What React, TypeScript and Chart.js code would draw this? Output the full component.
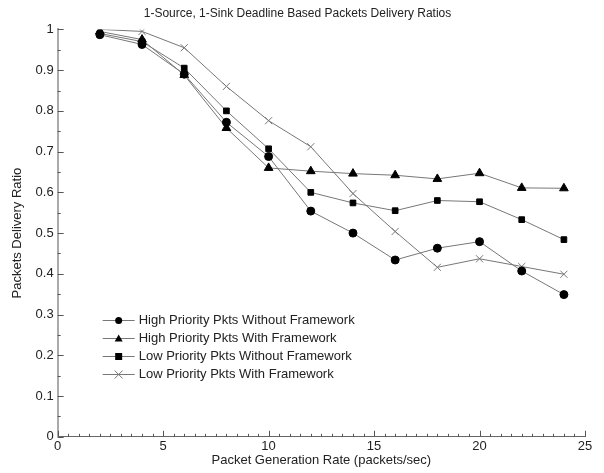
import React, { useEffect, useRef } from "react";
import { Chart, registerables } from "chart.js";

Chart.register(...registerables);

const rates = [2, 4, 6, 8, 10, 12, 14, 16, 18, 20, 22, 24];
const highWithout = [0.987, 0.963, 0.89, 0.772, 0.688, 0.554, 0.5, 0.434, 0.463, 0.479, 0.407, 0.349];
const highWith = [0.995, 0.975, 0.888, 0.758, 0.66, 0.652, 0.646, 0.642, 0.633, 0.647, 0.611, 0.61];
const lowWithout = [0.99, 0.97, 0.905, 0.8, 0.707, 0.6, 0.574, 0.555, 0.58, 0.577, 0.533, 0.484];
const lowWith = [1.0, 0.995, 0.955, 0.86, 0.776, 0.712, 0.597, 0.504, 0.416, 0.437, 0.418, 0.399];

const seriesLabels = [
  "High Priority Pkts Without Framework",
  "High Priority Pkts With Framework",
  "Low Priority Pkts Without Framework",
  "Low Priority Pkts With Framework",
];
const chartTitle = "1-Source, 1-Sink Deadline Based Packets Delivery Ratios";
const xTitle = "Packet Generation Rate (packets/sec)";
const yTitle = "Packets Delivery Ratio";

const FONT = "'Liberation Sans', Arial, sans-serif";

const ticksPlugin = {
  id: "insideTicks",
  afterDatasetsDraw(chart: any) {
    const { ctx, chartArea, scales } = chart;
    const x = scales.x;
    const y = scales.y;
    ctx.save();
    ctx.strokeStyle = "#555";
    ctx.lineWidth = 1;
    ctx.beginPath();
    for (let i = 0; i <= 50; i++) {
      const v = i * 0.5;
      const px = Math.round(x.getPixelForValue(v)) + 0.5;
      const len = i % 10 === 0 ? 6 : 3;
      ctx.moveTo(px, chartArea.bottom);
      ctx.lineTo(px, chartArea.bottom - len);
    }
    for (let i = 0; i <= 20; i++) {
      const v = i * 0.05;
      const py = Math.round(y.getPixelForValue(v)) + 0.5;
      const len = i % 2 === 0 ? 6 : 3;
      ctx.moveTo(chartArea.left, py);
      ctx.lineTo(chartArea.left + len, py);
    }
    ctx.stroke();
    ctx.restore();
  },
};

const legendPlugin = {
  id: "insideLegend",
  afterDraw(chart: any) {
    const { ctx, chartArea } = chart;
    const x0 = chartArea.left + 45;
    const y0 = chartArea.top + 291;
    const dy = 17.7;
    ctx.save();
    chart.data.datasets.forEach((ds: any, i: number) => {
      const yy = Math.round(y0 + i * dy) + 0.5;
      ctx.strokeStyle = ds.borderColor;
      ctx.lineWidth = 1;
      ctx.beginPath();
      ctx.moveTo(x0, yy);
      ctx.lineTo(x0 + 32, yy);
      ctx.stroke();
      ctx.fillStyle = ds.pointBackgroundColor;
      ctx.strokeStyle = ds.pointBorderColor;
      const style = ds.pointStyle;
      const cx = x0 + 16;
      if (style === "circle") {
        ctx.beginPath();
        ctx.arc(cx, yy, 3.5, 0, Math.PI * 2);
        ctx.fill();
      } else if (style === "triangle") {
        ctx.beginPath();
        ctx.moveTo(cx, yy - 4);
        ctx.lineTo(cx + 4, yy + 3);
        ctx.lineTo(cx - 4, yy + 3);
        ctx.closePath();
        ctx.fill();
      } else if (style === "rect") {
        ctx.fillRect(cx - 3.5, yy - 3.5, 7, 7);
      } else {
        ctx.beginPath();
        ctx.moveTo(cx - 4, yy - 4);
        ctx.lineTo(cx + 4, yy + 4);
        ctx.moveTo(cx + 4, yy - 4);
        ctx.lineTo(cx - 4, yy + 4);
        ctx.stroke();
      }
      ctx.fillStyle = "#222";
      ctx.font = "13px " + FONT;
      ctx.textBaseline = "middle";
      ctx.textAlign = "left";
      ctx.fillText(chart.data.datasets[i].label, x0 + 36, yy);
    });
    ctx.restore();
  },
};

export default function App() {
  const ref = useRef<HTMLCanvasElement>(null);
  useEffect(() => {
    if (!ref.current) return;
    const mk = (label: string, data: number[], style: string, r: number, black: boolean) => ({
      label,
      data: rates.map((r2, i) => ({ x: r2, y: data[i] })),
      borderColor: "#777",
      borderWidth: 1,
      pointStyle: style,
      pointRadius: r,
      pointBackgroundColor: black ? "#000" : "#777",
      pointBorderColor: black ? "#000" : "#777",
      pointBorderWidth: 1,
      fill: false,
      tension: 0,
    });
    const chart = new Chart(ref.current, {
      type: "line",
      data: {
        datasets: [
          mk(seriesLabels[0], highWithout, "circle", 4, true),
          mk(seriesLabels[1], highWith, "triangle", 5, true),
          mk(seriesLabels[2], lowWithout, "rect", 4, true),
          mk(seriesLabels[3], lowWith, "crossRot", 5, false),
        ],
      },
      options: {
        responsive: false,
        animation: false,
        layout: { padding: { left: 10, right: 19, top: 2, bottom: 5 } },
        plugins: {
          legend: { display: false },
          tooltip: { enabled: false },
          title: {
            display: true,
            text: chartTitle,
            color: "#222",
            font: { family: FONT, size: 12, weight: "normal" },
            padding: { top: 4, bottom: 9 },
          },
        },
        scales: {
          x: {
            type: "linear",
            min: 0,
            max: 25,
            grid: { display: false, drawTicks: false },
            border: { display: true, color: "#666", width: 1 },
            ticks: {
              stepSize: 5,
              color: "#222",
              font: { family: FONT, size: 13 },
              padding: 2,
              maxRotation: 0,
            },
            title: {
              display: true,
              text: xTitle,
              color: "#222",
              font: { family: FONT, size: 13 },
              padding: { top: -4, bottom: 0 },
            },
          },
          y: {
            type: "linear",
            min: 0,
            max: 1,
            grid: { display: false, drawTicks: false },
            border: { display: true, color: "#aaa", width: 2 },
            ticks: {
              stepSize: 0.1,
              color: "#222",
              font: { family: FONT, size: 13 },
              padding: 4,
              callback: (v: any) => String(Math.round(Number(v) * 10) / 10),
            },
            title: {
              display: true,
              text: yTitle,
              color: "#222",
              font: { family: FONT, size: 13 },
              padding: { top: 0, bottom: 6 },
            },
          },
        },
      },
      plugins: [ticksPlugin, legendPlugin],
    } as any);
    return () => chart.destroy();
  }, []);
  return (
    <div style={{ position: "fixed", left: 0, top: 0, width: 604, height: 473, background: "#fff" }}>
      <canvas ref={ref} width={604} height={473} style={{ display: "block" }} />
    </div>
  );
}
